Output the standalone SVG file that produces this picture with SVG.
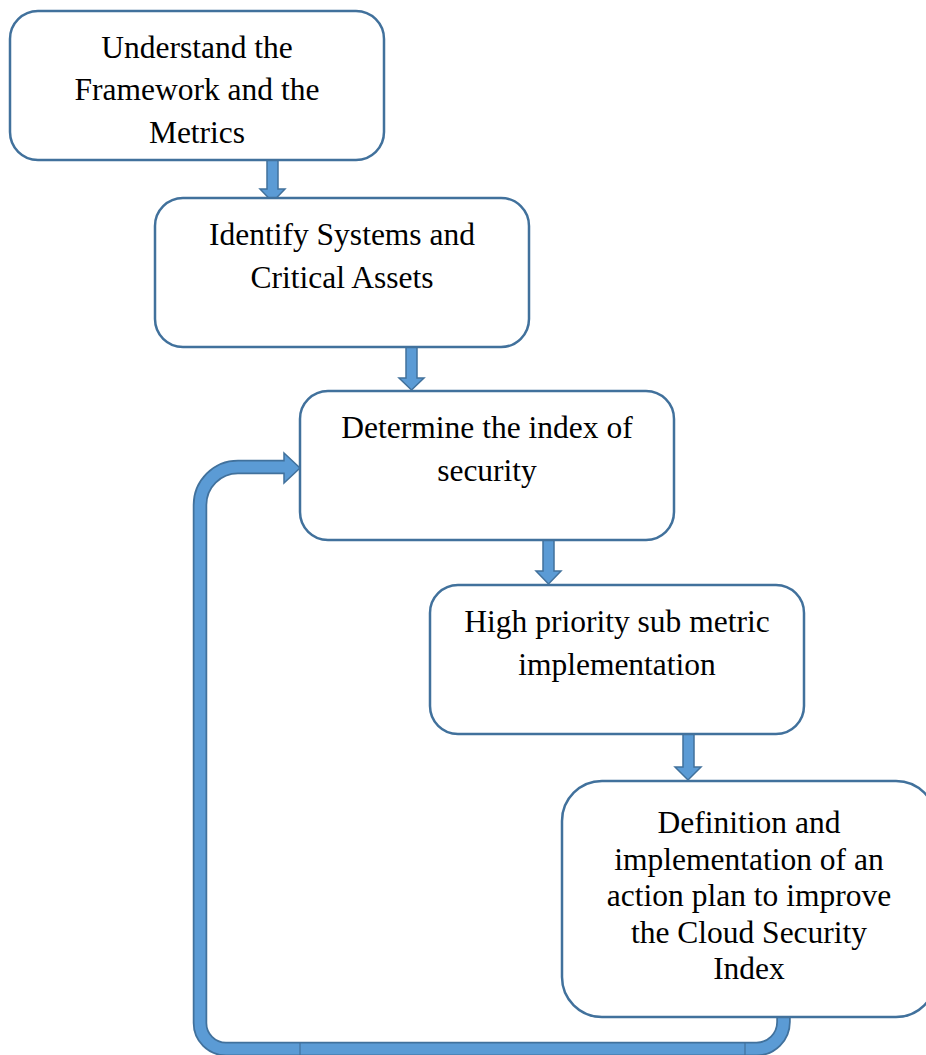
<svg xmlns="http://www.w3.org/2000/svg" width="926" height="1055" viewBox="0 0 926 1055">
<style>
.box{fill:#ffffff;stroke:#41719c;stroke-width:2.5}
.t{font-family:"Liberation Serif","Times New Roman",serif;font-size:31.5px;fill:#000000;text-anchor:middle}
.af{fill:#5b9bd5;stroke:#41719c;stroke-width:1.5;stroke-linejoin:miter}
.bandO{fill:none;stroke:#41719c;stroke-width:14.5}
.bandI{fill:none;stroke:#5b9bd5;stroke-width:11}
.seam{stroke:#41719c;stroke-width:1.2}
</style>
<rect width="926" height="1055" fill="#ffffff"/>
<g id="connectors">
<polygon class="af" points="267,160 278,160 278,189 285,189 272.5,202 260,189 267,189"/>
<polygon class="af" points="406,347 417,347 417,378 424,378 411.5,390 399,378 406,378"/>
<polygon class="af" points="543,540 554,540 554,571 561,571 548.5,584 536,571 543,571"/>
<polygon class="af" points="683,734 694,734 694,767 701,767 688,780 675,767 683,767"/>
<g id="loop">
<path class="bandO" d="M783.5,1017 V1022 A27,27 0 0 1 756.5,1049 H226 A26,26 0 0 1 200,1023 V505 A38,38 0 0 1 238,467 H285"/>
<polygon class="af" points="284,453 300,468 284,483"/>
<path class="bandI" d="M783.5,1016 V1022 A27,27 0 0 1 756.5,1049 H226 A26,26 0 0 1 200,1023 V505 A38,38 0 0 1 238,467 H286"/>
<line class="seam" x1="300" y1="1043" x2="300" y2="1055"/>
<line class="seam" x1="745" y1="1043" x2="745" y2="1055"/>
</g>
</g>
<g id="node1">
<rect class="box" x="10" y="11" width="374" height="149" rx="28"/>
<text class="t" x="197" y="58">Understand the</text>
<text class="t" x="197" y="100">Framework and the</text>
<text class="t" x="197" y="143">Metrics</text>
</g>
<g id="node2">
<rect class="box" x="155" y="198" width="374" height="149" rx="28"/>
<text class="t" x="342" y="245">Identify Systems and</text>
<text class="t" x="342" y="288">Critical Assets</text>
</g>
<g id="node3">
<rect class="box" x="300" y="391" width="374" height="149" rx="28"/>
<text class="t" x="487" y="438">Determine the index of</text>
<text class="t" x="487" y="481">security</text>
</g>
<g id="node4">
<rect class="box" x="430" y="585" width="374" height="149" rx="28"/>
<text class="t" x="617" y="632">High priority sub metric</text>
<text class="t" x="617" y="675">implementation</text>
</g>
<g id="node5">
<rect class="box" x="562" y="781" width="374" height="236" rx="40"/>
<text class="t" x="749" y="833">Definition and</text>
<text class="t" x="749" y="870">implementation of an</text>
<text class="t" x="749" y="906">action plan to improve</text>
<text class="t" x="749" y="943">the Cloud Security</text>
<text class="t" x="749" y="979">Index</text>
</g>
</svg>
